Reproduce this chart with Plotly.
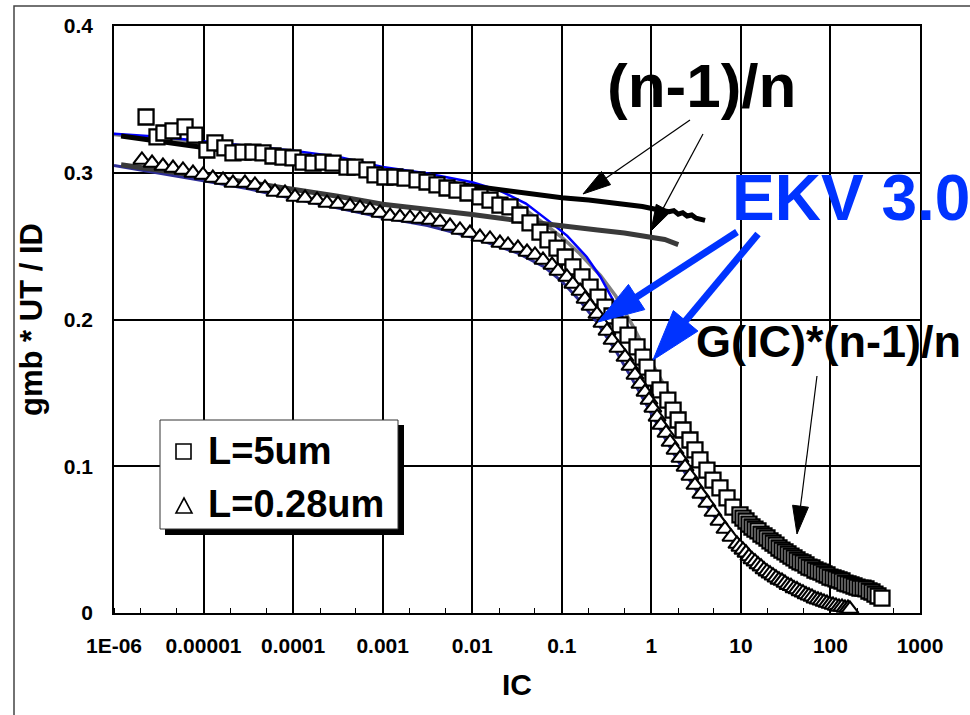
import math
import plotly.graph_objects as go

# ---------------- data ----------------
# measured gmb*UT/ID versus inversion coefficient, L = 5 um
IC_5UM = [2.28e-6, 3.02e-6, 3.61e-6, 4.56e-6, 6.21e-6, 8.02e-6, 1.09e-5, 1.34e-5, 1.73e-5, 2.13e-5,
          2.76e-5, 3.56e-5, 4.61e-5, 5.96e-5, 7.71e-5, 9.97e-5, 1.29e-4, 1.67e-4, 2.16e-4, 2.79e-4,
          4.00e-4, 4.91e-4, 6.68e-4, 8.21e-4, 1.06e-3, 1.37e-3, 1.78e-3, 2.42e-3, 3.13e-3, 4.04e-3,
          5.23e-3, 6.76e-3, 8.97e-3, 1.22e-2, 1.58e-2, 2.04e-2, 2.64e-2, 3.41e-2, 4.42e-2, 5.71e-2,
          7.02e-2, 8.84e-2, 0.109, 0.133, 0.168, 0.207, 0.254, 0.304, 0.364, 0.447,
          0.549, 0.692, 0.807, 0.894, 1.04, 1.25, 1.53, 1.75, 1.99, 2.26,
          2.70, 3.07, 3.49, 4.18, 4.88, 5.84, 7.00, 8.16,
          9.77, 10.55, 11.40, 12.31, 13.30, 14.37, 15.52, 16.77, 18.11, 19.56,
          21.13, 22.83, 24.66, 26.63, 28.77, 31.08, 33.57, 36.26, 39.17, 42.31,
          45.70, 49.36, 53.32, 57.60, 62.22, 67.20, 72.6, 78.4, 84.7, 91.5,
          98.8, 106.8, 115.3, 124.6, 134.6, 145.3, 157.0, 169.6, 183.2, 197.9,
          213.7, 230.8, 249.4, 269.3, 290.9, 314.2, 339.4, 376.2]
GMB_5UM = [0.3380, 0.3244, 0.3271, 0.3285, 0.3312, 0.3257, 0.3155, 0.3203, 0.3169, 0.3135,
           0.3141, 0.3141, 0.3135, 0.3114, 0.3107, 0.3101, 0.3073, 0.3066, 0.3073, 0.3066,
           0.3039, 0.3039, 0.3019, 0.2985, 0.2971, 0.2971, 0.2964, 0.2951, 0.2937, 0.2917,
           0.2896, 0.2882, 0.2862, 0.2835, 0.2814, 0.2780, 0.2767, 0.2712, 0.2658, 0.2596,
           0.2542, 0.2487, 0.2426, 0.2358, 0.2290, 0.2221, 0.2153, 0.2085, 0.2024, 0.1963,
           0.1894, 0.1813, 0.1744, 0.1676, 0.1601, 0.1520, 0.1451, 0.1383, 0.1315, 0.1247,
           0.1179, 0.1111, 0.1043, 0.0974, 0.0906, 0.0852, 0.0784, 0.0722,
           0.0668, 0.0647, 0.0627, 0.0606, 0.0586, 0.0572, 0.0559, 0.0538, 0.0525, 0.0511,
           0.0491, 0.0477, 0.0463, 0.0443, 0.0429, 0.0416, 0.0402, 0.0388, 0.0375, 0.0361,
           0.0348, 0.0341, 0.0327, 0.0313, 0.0307, 0.0293, 0.0286, 0.0279, 0.0266, 0.0259,
           0.0245, 0.0239, 0.0232, 0.0225, 0.0218, 0.0204, 0.0198, 0.0191, 0.0184, 0.0177,
           0.0170, 0.0170, 0.0164, 0.0150, 0.0143, 0.0129, 0.0116, 0.0102]

# measured gmb*UT/ID versus inversion coefficient, L = 0.28 um
IC_028UM = [2.05e-6, 2.66e-6, 3.52e-6, 4.56e-6, 5.89e-6, 7.62e-6, 9.86e-6, 1.27e-5, 1.65e-5, 2.13e-5,
            2.90e-5, 3.75e-5, 4.85e-5, 6.28e-5, 8.12e-5, 1.05e-4, 1.36e-4, 1.85e-4, 2.39e-4, 3.17e-4,
            4.32e-4, 5.58e-4, 7.22e-4, 9.34e-4, 1.21e-3, 1.56e-3, 2.02e-3, 2.61e-3, 3.38e-3, 4.37e-3,
            5.65e-3, 7.30e-3, 9.44e-3, 1.22e-2, 1.58e-2, 2.04e-2, 2.51e-2, 3.24e-2, 4.09e-2, 5.02e-2,
            6.17e-2, 7.78e-2, 9.07e-2, 0.114, 0.133, 0.160, 0.182, 0.207, 0.247, 0.281,
            0.320, 0.364, 0.424, 0.508, 0.578, 0.657, 0.747, 0.850, 0.942, 1.04,
            1.16, 1.28, 1.46, 1.62, 1.84, 2.09, 2.38, 2.70, 3.07, 3.58,
            4.18, 4.88, 5.69, 6.64, 7.75,
            9.04, 9.77, 10.55, 11.40, 12.31, 13.30, 14.37, 15.52, 16.77, 18.11,
            19.56, 21.13, 22.83, 24.66, 26.63, 28.77, 31.08, 33.57, 36.26, 39.17,
            42.31, 45.70, 49.36, 53.32, 57.60, 62.22, 67.20, 72.6, 78.4, 84.7,
            91.5, 98.8, 106.8, 115.3, 124.6, 134.6, 145.3, 157.0, 165]
GMB_028UM = [0.3087, 0.3066, 0.3046, 0.3032, 0.3019, 0.2998, 0.2985, 0.2964, 0.2951, 0.2930,
             0.2930, 0.2917, 0.2896, 0.2869, 0.2862, 0.2835, 0.2828, 0.2814, 0.2794, 0.2787,
             0.2773, 0.2760, 0.2746, 0.2726, 0.2705, 0.2698, 0.2692, 0.2685, 0.2678, 0.2664,
             0.2637, 0.2610, 0.2589, 0.2562, 0.2549, 0.2521, 0.2508, 0.2487, 0.2460, 0.2440,
             0.2405, 0.2371, 0.2331, 0.2290, 0.2242, 0.2194, 0.2140, 0.2092, 0.2037, 0.1976,
             0.1922, 0.1860, 0.1806, 0.1744, 0.1683, 0.1622, 0.1560, 0.1506, 0.1451, 0.1397,
             0.1336, 0.1281, 0.1227, 0.1165, 0.1111, 0.1056, 0.0995, 0.0934, 0.0872, 0.0811,
             0.0750, 0.0688, 0.0627, 0.0572, 0.0518,
             0.0470, 0.0450, 0.0430, 0.0410, 0.0385, 0.0365, 0.0350, 0.0330, 0.0316, 0.0296,
             0.0282, 0.0268, 0.0254, 0.0240, 0.0226, 0.0218, 0.0204, 0.0190, 0.0182, 0.0168,
             0.0160, 0.0147, 0.0139, 0.0126, 0.0118, 0.0110, 0.0097, 0.0090, 0.0083, 0.0076,
             0.0068, 0.0061, 0.0055, 0.0048, 0.0041, 0.0041, 0.0034, 0.0034, 0.0027]

# EKV 3.0 model, L = 5 um
IC_EKV_5UM = [1e-6, 3.16e-6, 1e-5, 3.16e-5, 1e-4, 3.16e-4, 1e-3, 3.16e-3, 1e-2, 2.0e-2,
              3.98e-2, 7.94e-2, 0.115, 0.19, 0.27, 0.40, 0.63, 1.0, 1.58, 2.51,
              3.98, 6.31, 10, 15.8, 25.1, 39.8, 63.1, 100, 158, 251, 380]
GMB_EKV_5UM = [0.3265, 0.3245, 0.3215, 0.3185, 0.3150, 0.3110, 0.3040, 0.2995, 0.2935, 0.2880,
               0.2790, 0.2650, 0.2570, 0.2426, 0.2290, 0.2100, 0.1880, 0.1640, 0.1420, 0.1200,
               0.1000, 0.0820, 0.0665, 0.0540, 0.0450, 0.0370, 0.0305, 0.0250, 0.0200, 0.0160, 0.0110]

# G(IC)*(n-1)/n, L = 5 um
IC_G_5UM = [1e-6, 1e-5, 1e-4, 1e-3, 1e-2, 3.16e-2, 6.31e-2, 0.1, 0.158, 0.27,
            0.40, 0.63, 1.0, 1.26, 2.0, 3.16, 5.01, 7.94, 12.6, 20.0,
            31.6, 50.1, 79.4, 126, 200, 316, 398]
GMB_G_5UM = [0.3260, 0.3200, 0.3130, 0.3020, 0.2900, 0.2790, 0.2655, 0.2560, 0.2450, 0.2300,
             0.2160, 0.1950, 0.1710, 0.1600, 0.1380, 0.1160, 0.0960, 0.0790, 0.0640, 0.0520,
             0.0425, 0.0345, 0.0280, 0.0228, 0.0180, 0.0135, 0.0110]

# EKV 3.0 model, L = 0.28 um
IC_EKV_028UM = [1e-6, 3.16e-6, 1e-5, 3.16e-5, 1e-4, 3.16e-4, 1e-3, 3.16e-3, 1e-2, 3.16e-2,
                6.31e-2, 0.1, 0.158, 0.251, 0.398, 0.631, 1.0, 1.58, 2.51, 3.98,
                6.31, 10, 15.8, 25.1, 39.8, 63.1, 100, 158]
GMB_EKV_028UM = [0.3050, 0.3000, 0.2945, 0.2890, 0.2825, 0.2760, 0.2695, 0.2640, 0.2560, 0.2455,
                 0.2360, 0.2260, 0.2130, 0.1975, 0.1790, 0.1580, 0.1360, 0.1140, 0.0930, 0.0745,
                 0.0580, 0.0440, 0.0330, 0.0245, 0.0180, 0.0125, 0.0080, 0.0045]

# (n-1)/n extracted from the slope factor
IC_N_5UM = [1.2e-6, 3.16e-6, 1e-5, 3.16e-5, 1e-4, 3.16e-4, 1e-3, 3.16e-3, 1e-2, 2.51e-2,
            5.01e-2, 0.1, 0.2, 0.398, 0.794, 1.26, 1.58, 1.78, 2.0, 2.24,
            2.51, 2.82, 3.16, 3.98]
GMB_N_5UM = [0.3250, 0.3215, 0.3170, 0.3130, 0.3080, 0.3030, 0.2990, 0.2950, 0.2905, 0.2875,
             0.2850, 0.2830, 0.2815, 0.2795, 0.2770, 0.2745, 0.2735, 0.2742, 0.2718, 0.2728,
             0.2705, 0.2712, 0.2690, 0.2675]
IC_N_028UM = [1.2e-6, 3.16e-6, 1e-5, 3.16e-5, 1e-4, 3.16e-4, 1e-3, 2.51e-3, 1e-2, 3.16e-2,
              0.1, 0.251, 0.5, 1.0, 1.41, 2.0]
GMB_N_028UM = [0.3055, 0.3015, 0.2975, 0.2935, 0.2890, 0.2840, 0.2785, 0.2760, 0.2715, 0.2675,
               0.2635, 0.2610, 0.2590, 0.2560, 0.2545, 0.2510]

X_TICK_VALS = [1e-6, 1e-5, 1e-4, 1e-3, 1e-2, 1e-1, 1, 10, 100, 1000]
X_TICK_TEXT = ["1E-06", "0.00001", "0.0001", "0.001", "0.01", "0.1", "1", "10", "100", "1000"]
Y_TICK_VALS = [0, 0.1, 0.2, 0.3, 0.4]
Y_TICK_TEXT = ["0", "0.1", "0.2", "0.3", "0.4"]

SERIES_NAMES = ["L=5um", "L=0.28um"]

# ---------------- layout geometry (pixels) ----------------
W, H = 970, 715
PLOT_L, PLOT_T, PLOT_R, PLOT_B = 114, 26, 920, 613
PLOT_W, PLOT_H = PLOT_R - PLOT_L, PLOT_B - PLOT_T

FONT = "Liberation Sans, Arial, Helvetica, sans-serif"
BLUE = "#0033ff"


def to_paper(px, py):
    return (px - PLOT_L) / PLOT_W, (PLOT_B - py) / PLOT_H


def rect_shape(p0, p1, **style):
    x0, y0 = to_paper(*p0)
    x1, y1 = to_paper(*p1)
    return dict(type="rect", xref="paper", yref="paper",
                x0=x0, y0=min(y0, y1), x1=x1, y1=max(y0, y1), **style)


def poly_shape(points, **style):
    pts = [to_paper(*p) for p in points]
    path = "M" + " L".join("{:.5f},{:.5f}".format(x, y) for x, y in pts) + " Z"
    return dict(type="path", xref="paper", yref="paper", path=path, **style)


def arrow_shapes(tail, tip, head_len, head_half, width, color):
    dx, dy = tip[0] - tail[0], tip[1] - tail[1]
    d = math.hypot(dx, dy)
    ux, uy = dx / d, dy / d
    bx, by = tip[0] - ux * head_len, tip[1] - uy * head_len
    nx, ny = -uy, ux
    c1 = (bx + nx * head_half, by + ny * head_half)
    c2 = (bx - nx * head_half, by - ny * head_half)
    x0, y0 = to_paper(*tail)
    x1, y1 = to_paper(bx + ux * 2, by + uy * 2)
    shaft = dict(type="line", xref="paper", yref="paper", x0=x0, y0=y0, x1=x1, y1=y1,
                 line=dict(color=color, width=width), layer="above")
    head = poly_shape([tip, c1, c2], fillcolor=color, line=dict(color=color, width=1),
                      layer="above")
    return [shaft, head]


fig = go.Figure()

# model / parameter curves underneath the measured points
fig.add_trace(go.Scatter(x=IC_EKV_028UM, y=GMB_EKV_028UM, mode="lines", showlegend=False,
                         line=dict(color="#2e2e96", width=3)))
fig.add_trace(go.Scatter(x=IC_G_5UM, y=GMB_G_5UM, mode="lines", showlegend=False,
                         line=dict(color="#808080", width=3.5)))
fig.add_trace(go.Scatter(x=IC_EKV_5UM, y=GMB_EKV_5UM, mode="lines", showlegend=False,
                         line=dict(color="#0000ff", width=2.5)))
fig.add_trace(go.Scatter(x=IC_N_028UM, y=GMB_N_028UM, mode="lines", showlegend=False,
                         line=dict(color="#3a3a3a", width=5)))
fig.add_trace(go.Scatter(x=IC_N_5UM, y=GMB_N_5UM, mode="lines", showlegend=False,
                         line=dict(color="#000000", width=5)))

# measured points
fig.add_trace(go.Scatter(x=IC_5UM, y=GMB_5UM, mode="markers", name=SERIES_NAMES[0],
                         showlegend=False, cliponaxis=False,
                         marker=dict(symbol="square", size=15, color="white",
                                     line=dict(color="black", width=2.3))))
fig.add_trace(go.Scatter(x=IC_028UM, y=GMB_028UM, mode="markers", name=SERIES_NAMES[1],
                         showlegend=False, cliponaxis=False,
                         marker=dict(symbol="triangle-up", size=15, color="white",
                                     line=dict(color="black", width=2.1))))

shapes = []
# outer chart frame
shapes.append(rect_shape((14, 6), (990, 740), line=dict(color="#444444", width=1.5),
                         fillcolor="rgba(0,0,0,0)", layer="below"))
# legend box with drop shadow and symbols
shapes.append(rect_shape((165, 425), (404, 535), line=dict(width=0), fillcolor="black",
                         layer="above"))
shapes.append(rect_shape((160, 420), (398, 529), line=dict(color="#333333", width=1),
                         fillcolor="white", layer="above"))
shapes.append(rect_shape((176, 444), (191, 459), line=dict(color="black", width=1.6),
                         fillcolor="white", layer="above"))
shapes.append(poly_shape([(176, 513), (192, 513), (184, 498)], line=dict(color="black", width=1.6),
                         fillcolor="white", layer="above"))
# pointer arrows
shapes += arrow_shapes((690, 120), (583, 194), 28, 8, 1.2, "black")
shapes += arrow_shapes((703, 134), (651, 231), 26, 8, 1.2, "black")
shapes += arrow_shapes((817, 376), (797, 534), 28, 8, 1.2, "black")
shapes += arrow_shapes((737, 232), (598, 322), 46, 15, 7, BLUE)
shapes += arrow_shapes((758, 234), (653, 360), 51, 16, 7, BLUE)

annotations = []


def label(text, px, py, size, color="black", anchor="center"):
    x, y = to_paper(px, py)
    annotations.append(dict(text=text, x=x, y=y, xref="paper", yref="paper",
                            xanchor=anchor, yanchor="middle", showarrow=False,
                            font=dict(family=FONT, size=size, color=color, weight="bold")))


label("(n-1)/n", 701, 86, 62)
label("EKV 3.0", 851, 198, 64, BLUE)
label("G(IC)*(n-1)/n", 828, 341, 45)
label(SERIES_NAMES[0], 206, 451, 38, anchor="left")
label(SERIES_NAMES[1], 206, 504, 38, anchor="left")

axis_font = dict(family=FONT, size=21, color="black", weight="bold")

fig.update_layout(
    width=W, height=H,
    margin=dict(l=PLOT_L, r=W - PLOT_R, t=PLOT_T, b=H - PLOT_B),
    paper_bgcolor="white", plot_bgcolor="white",
    shapes=shapes, annotations=annotations,
    showlegend=False,
    xaxis=dict(type="log", range=[-6, 3], tickvals=X_TICK_VALS, ticktext=X_TICK_TEXT,
               showgrid=True, gridcolor="black", gridwidth=1.5,
               showline=True, linecolor="black", linewidth=1.5, mirror=True,
               ticks="", tickfont=axis_font, ticklabelstandoff=13,
               minor=dict(ticks="inside", ticklen=5, tickcolor="black", tickwidth=1,
                          showgrid=False),
               title=dict(text="IC", font=dict(family=FONT, size=30, color="black", weight="bold"),
                          standoff=18),
               zeroline=False),
    yaxis=dict(range=[0, 0.4], tickvals=Y_TICK_VALS, ticktext=Y_TICK_TEXT,
               showgrid=True, gridcolor="black", gridwidth=1.5,
               showline=True, linecolor="black", linewidth=1.5, mirror=True,
               ticks="", tickfont=axis_font, ticklabelstandoff=15,
               title=dict(text="gmb * UT / ID",
                          font=dict(family=FONT, size=31, color="black", weight="bold"),
                          standoff=12),
               zeroline=False),
)

fig.write_html("out.html")
